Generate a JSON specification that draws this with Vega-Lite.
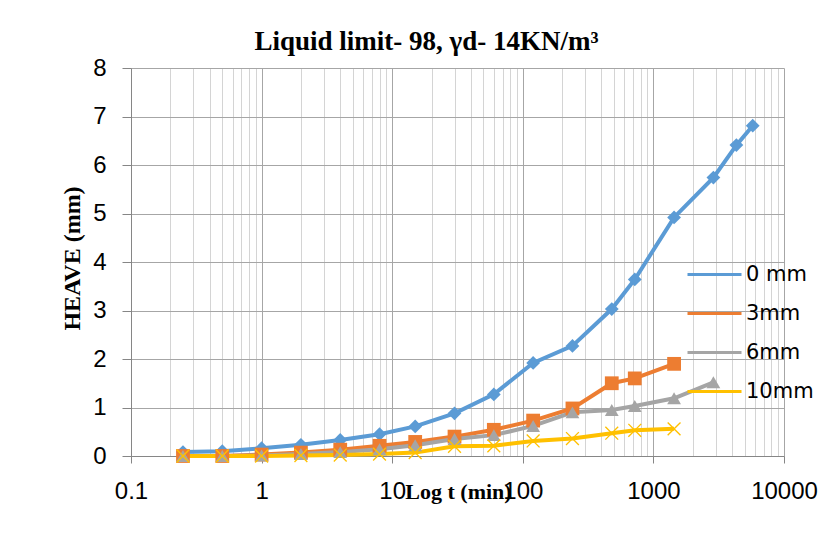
{
  "$schema": "https://vega.github.io/schema/vega-lite/v6.json",
  "width": 653,
  "height": 388,
  "autosize": {"type": "none"},
  "padding": {"left": 131, "top": 68, "right": 44, "bottom": 77},
  "background": "white",
  "config": {"view": {"stroke": null}},
  "title": {
    "text": "Liquid limit- 98, γd- 14KN/m³",
    "font": "Liberation Serif",
    "fontSize": 27,
    "fontWeight": "bold",
    "color": "black",
    "anchor": "middle",
    "frame": "group",
    "baseline": "alphabetic",
    "offset": -21,
    "dx": -31
  },
  "data": {
    "values": [
      {"series": "0 mm", "t": 0.25, "heave": 0.08},
      {"series": "0 mm", "t": 0.5, "heave": 0.1},
      {"series": "0 mm", "t": 1, "heave": 0.16},
      {"series": "0 mm", "t": 2, "heave": 0.23},
      {"series": "0 mm", "t": 4, "heave": 0.33},
      {"series": "0 mm", "t": 8, "heave": 0.45},
      {"series": "0 mm", "t": 15, "heave": 0.61},
      {"series": "0 mm", "t": 30, "heave": 0.88},
      {"series": "0 mm", "t": 60, "heave": 1.27},
      {"series": "0 mm", "t": 120, "heave": 1.92},
      {"series": "0 mm", "t": 240, "heave": 2.27},
      {"series": "0 mm", "t": 480, "heave": 3.03},
      {"series": "0 mm", "t": 720, "heave": 3.64},
      {"series": "0 mm", "t": 1440, "heave": 4.92},
      {"series": "0 mm", "t": 2880, "heave": 5.74},
      {"series": "0 mm", "t": 4320, "heave": 6.41},
      {"series": "0 mm", "t": 5760, "heave": 6.81},
      {"series": "3mm", "t": 0.25, "heave": 0},
      {"series": "3mm", "t": 0.5, "heave": 0},
      {"series": "3mm", "t": 1, "heave": 0.03},
      {"series": "3mm", "t": 2, "heave": 0.07},
      {"series": "3mm", "t": 4, "heave": 0.13},
      {"series": "3mm", "t": 8, "heave": 0.21},
      {"series": "3mm", "t": 15, "heave": 0.29},
      {"series": "3mm", "t": 30, "heave": 0.4},
      {"series": "3mm", "t": 60, "heave": 0.54},
      {"series": "3mm", "t": 120, "heave": 0.73},
      {"series": "3mm", "t": 240, "heave": 0.98},
      {"series": "3mm", "t": 480, "heave": 1.5},
      {"series": "3mm", "t": 720, "heave": 1.6},
      {"series": "3mm", "t": 1440, "heave": 1.9},
      {"series": "6mm", "t": 0.25, "heave": 0},
      {"series": "6mm", "t": 0.5, "heave": 0},
      {"series": "6mm", "t": 1, "heave": 0.01},
      {"series": "6mm", "t": 2, "heave": 0.04},
      {"series": "6mm", "t": 4, "heave": 0.08},
      {"series": "6mm", "t": 8, "heave": 0.14},
      {"series": "6mm", "t": 15, "heave": 0.22},
      {"series": "6mm", "t": 30, "heave": 0.35},
      {"series": "6mm", "t": 60, "heave": 0.43},
      {"series": "6mm", "t": 120, "heave": 0.62},
      {"series": "6mm", "t": 240, "heave": 0.9},
      {"series": "6mm", "t": 480, "heave": 0.95},
      {"series": "6mm", "t": 720, "heave": 1.03},
      {"series": "6mm", "t": 1440, "heave": 1.19},
      {"series": "6mm", "t": 2880, "heave": 1.52},
      {"series": "10mm", "t": 0.25, "heave": 0},
      {"series": "10mm", "t": 0.5, "heave": 0},
      {"series": "10mm", "t": 1, "heave": 0},
      {"series": "10mm", "t": 2, "heave": 0.01},
      {"series": "10mm", "t": 4, "heave": 0.02},
      {"series": "10mm", "t": 8, "heave": 0.04},
      {"series": "10mm", "t": 15, "heave": 0.07},
      {"series": "10mm", "t": 30, "heave": 0.2},
      {"series": "10mm", "t": 60, "heave": 0.21},
      {"series": "10mm", "t": 120, "heave": 0.31},
      {"series": "10mm", "t": 240, "heave": 0.36},
      {"series": "10mm", "t": 480, "heave": 0.47},
      {"series": "10mm", "t": 720, "heave": 0.53},
      {"series": "10mm", "t": 1440, "heave": 0.56}
    ]
  },
  "encoding": {
    "x": {
      "field": "t",
      "type": "quantitative",
      "scale": {"type": "log", "domain": [0.1, 10000], "nice": false},
      "axis": {
        "title": "Log t (min)",
        "values": [0.1,0.2,0.3,0.4,0.5,0.6,0.7,0.8,0.9,1,2,3,4,5,6,7,8,9,10,20,30,40,50,60,70,80,90,100,200,300,400,500,600,700,800,900,1000,2000,3000,4000,5000,6000,7000,8000,9000,10000],
        "format": ".1~f",
        "labelExpr": "indexof(['0.1','1','10','100','1000','10000'], datum.label) >= 0 ? datum.label : ''",
        "labelOverlap": false,
        "labelFlush": false,
        "labelBound": false,
        "labelFont": "Liberation Sans",
        "labelFontSize": 24,
        "labelColor": "black",
        "labelPadding": 16,
        "grid": true,
        "gridColor": {"condition": {"test": "indexof([0.1,1,10,100,1000,10000], datum.value) >= 0", "value": "#A6A6A6"}, "value": "#D4D4D4"},
        "gridWidth": 1,
        "tickOpacity": {"condition": {"test": "indexof([0.1,1,10,100,1000,10000], datum.value) >= 0", "value": 1}, "value": 0},
        "tickColor": "#868686",
        "tickSize": 7,
        "domainColor": "#868686",
        "titleFont": "Liberation Serif",
        "titleFontSize": 22,
        "titleFontWeight": "bold",
        "titleColor": "black",
        "titleX": 327,
        "titleY": 42,
        "titleBaseline": "alphabetic",
        "titleAlign": "center"
      }
    },
    "y": {
      "field": "heave",
      "type": "quantitative",
      "scale": {"domain": [0, 8], "nice": false},
      "axis": {
        "title": "HEAVE (mm)",
        "values": [0,1,2,3,4,5,6,7,8],
        "labelFont": "Liberation Sans",
        "labelFontSize": 24,
        "labelColor": "black",
        "labelPadding": 16,
        "grid": true,
        "gridColor": "#A6A6A6",
        "tickColor": "#868686",
        "tickSize": 9,
        "domainColor": "#868686",
        "titleFont": "Liberation Serif",
        "titleFontSize": 24,
        "titleFontWeight": "bold",
        "titleColor": "black",
        "titleAngle": -90,
        "titleX": -59,
        "titleY": 190,
        "titleBaseline": "middle",
        "titleAlign": "center"
      }
    }
  },
  "layer": [
    {
      "mark": {"type": "line", "strokeWidth": 4, "interpolate": "linear"},
      "encoding": {
        "order": {"field": "t", "type": "quantitative"},
        "color": {
          "field": "series",
          "type": "nominal",
          "scale": {"domain": ["0 mm", "3mm", "6mm", "10mm"], "range": ["#5B9BD5", "#ED7D31", "#A5A5A5", "#FFC000"]},
          "legend": {
            "title": null,
            "orient": "none",
            "legendX": 555,
            "legendY": 178,
            "padding": 0,
            "rowPadding": -1,
            "symbolSize": 2916,
            "symbolStrokeWidth": 3,
            "labelFont": "DejaVu Sans",
            "labelFontSize": 21,
            "labelColor": "black",
            "labelOffset": 3
          }
        }
      }
    },
    {
      "mark": {"type": "point", "filled": true, "opacity": 1, "strokeWidth": 0},
      "encoding": {
        "color": {"field": "series", "type": "nominal", "legend": null},
        "shape": {
          "condition": [
            {"test": "datum.series === '3mm'", "value": "square"},
            {"test": "datum.series === '6mm'", "value": "triangle-up"},
            {"test": "datum.series === '10mm'", "value": "M-1,-0.86L-0.86,-1L1,0.86L0.86,1Z M-1,0.86L0.86,-1L1,-0.86L-0.86,1Z"}
          ],
          "value": "diamond"
        },
        "size": {"value": 190}
      }
    }
  ]
}
